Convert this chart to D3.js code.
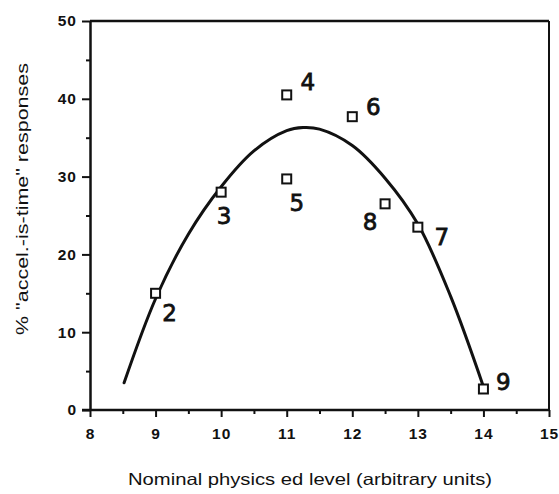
<!DOCTYPE html>
<html>
<head>
<meta charset="utf-8">
<script src="https://cdn.jsdelivr.net/npm/d3@7"></script>
<style>
  html, body { margin: 0; padding: 0; background: #fff; }
  svg { display: block; }
</style>
</head>
<body>
<svg id="chart" width="559" height="494"></svg>
<script>
// Observed responses by physics education level, each point labelled with its group number
const levels = [9, 10, 11, 11, 12, 12.5, 13, 14];
const percents = [15, 28, 40.5, 29.7, 37.7, 26.5, 23.5, 2.7];
const groups = ["2", "3", "4", "5", "6", "8", "7", "9"];

// Hand-fitted trend curve through the points
const trendX = [8.52, 9, 9.5, 10, 10.5, 11, 11.25, 11.5, 12, 12.5, 13, 13.5, 14];
const trendY = [3.5, 14.3, 22.6, 28.7, 33.3, 35.9, 36.3, 36.1, 34.0, 29.8, 23.9, 14.6, 3.0];

// Axis ticks
const xTicks = [8, 9, 10, 11, 12, 13, 14, 15];
const xMinor = [8.5, 9.5, 10.5, 11.5, 12.5, 13.5, 14.5];
const yTicks = [0, 10, 20, 30, 40, 50];
const yMinor = [5, 15, 25, 35, 45];

const xTitle = "Nominal physics ed  level (arbitrary units)";
const yTitle = "% \"accel.-is-time\" responses";

// Label placement next to each square (pixels)
const labelDx = [14, 3, 21, 10, 21, -15, 24, 20];
const labelDy = [20, 24, -13, 24, -10, 18, 10, -7];

const svg = d3.select("#chart");
const plotLeft = 90, plotRight = 549, plotTop = 21, plotBottom = 410;

const x = d3.scaleLinear().domain([8, 15]).range([plotLeft, plotRight]);
const y = d3.scaleLinear().domain([0, 50]).range([plotBottom, plotTop]);

const ink = "#111";
const tickFont = "'Liberation Sans', Arial, sans-serif";

// Frame: top and right borders
svg.append("line")
  .attr("x1", x(8)).attr("x2", x(15)).attr("y1", y(50)).attr("y2", y(50))
  .attr("stroke", ink).attr("stroke-width", 2.5);
svg.append("line")
  .attr("x1", x(15)).attr("x2", x(15)).attr("y1", y(50)).attr("y2", y(0))
  .attr("stroke", ink).attr("stroke-width", 2);

// Minor ticks
svg.append("g")
  .attr("transform", `translate(0,${plotBottom})`)
  .call(d3.axisBottom(x).tickValues(xMinor).tickSize(4).tickFormat(""))
  .call(g => g.select(".domain").remove())
  .call(g => g.selectAll("line").attr("stroke", ink).attr("stroke-width", 2));
svg.append("g")
  .attr("transform", `translate(${plotLeft},0)`)
  .call(d3.axisLeft(y).tickValues(yMinor).tickSize(4).tickFormat(""))
  .call(g => g.select(".domain").remove())
  .call(g => g.selectAll("line").attr("stroke", ink).attr("stroke-width", 2));

// Major axes
const xAxis = svg.append("g")
  .attr("transform", `translate(0,${plotBottom})`)
  .call(d3.axisBottom(x).tickValues(xTicks).tickSize(7).tickSizeOuter(0).tickPadding(11).tickFormat(d3.format("d")));
xAxis.select(".domain").attr("stroke", ink).attr("stroke-width", 2.5)
  .attr("d", `M${plotLeft - 8},0H${plotRight}`);
xAxis.selectAll("line").attr("stroke", ink).attr("stroke-width", 2);
xAxis.selectAll("text")
  .attr("fill", ink).attr("font-family", tickFont)
  .attr("font-size", 15.5).attr("font-weight", "bold")
  .attr("letter-spacing", "1px");

const yAxis = svg.append("g")
  .attr("transform", `translate(${plotLeft},0)`)
  .call(d3.axisLeft(y).tickValues(yTicks).tickSize(8).tickSizeOuter(0).tickPadding(5).tickFormat(d3.format("d")));
yAxis.select(".domain").attr("stroke", ink).attr("stroke-width", 2.5);
yAxis.selectAll("line").attr("stroke", ink).attr("stroke-width", 2);
yAxis.selectAll("text")
  .attr("fill", ink).attr("font-family", tickFont)
  .attr("font-size", 15.5).attr("font-weight", "bold")
  .attr("letter-spacing", "1px");

// Axis titles
svg.append("text")
  .attr("x", 310).attr("y", 485)
  .attr("text-anchor", "middle")
  .attr("font-family", tickFont).attr("font-size", 16.5)
  .attr("fill", ink)
  .attr("textLength", 364).attr("lengthAdjust", "spacingAndGlyphs")
  .text(xTitle);

svg.append("text")
  .attr("transform", "translate(28,199) rotate(-90)")
  .attr("text-anchor", "middle")
  .attr("font-family", tickFont).attr("font-size", 17)
  .attr("fill", ink)
  .attr("textLength", 272).attr("lengthAdjust", "spacingAndGlyphs")
  .text(yTitle);

// Trend curve
const trend = trendX.map((v, i) => [v, trendY[i]]);
svg.append("path")
  .datum(trend)
  .attr("fill", "none")
  .attr("stroke", ink)
  .attr("stroke-width", 3)
  .attr("stroke-linecap", "round")
  .attr("d", d3.line().x(d => x(d[0])).y(d => y(d[1])).curve(d3.curveCatmullRom.alpha(0.5)));

// Data squares
const pts = levels.map((v, i) => ({ lx: v, py: percents[i], g: groups[i], dx: labelDx[i], dy: labelDy[i] }));
const sq = 9;
svg.append("g").selectAll("rect")
  .data(pts)
  .join("rect")
  .attr("x", d => x(d.lx) - sq / 2)
  .attr("y", d => y(d.py) - sq / 2)
  .attr("width", sq).attr("height", sq)
  .attr("fill", "#fff")
  .attr("stroke", ink)
  .attr("stroke-width", 2);

// Group numbers
svg.append("g").selectAll("text")
  .data(pts)
  .join("text")
  .attr("x", d => x(d.lx) + d.dx)
  .attr("y", d => y(d.py) + d.dy)
  .attr("text-anchor", "middle")
  .attr("dominant-baseline", "central")
  .attr("font-family", "'DejaVu Sans', sans-serif")
  .attr("font-size", 23)
  .attr("fill", ink)
  .attr("stroke", ink)
  .attr("stroke-width", 0.8)
  .text(d => d.g);
</script>
</body>
</html>
